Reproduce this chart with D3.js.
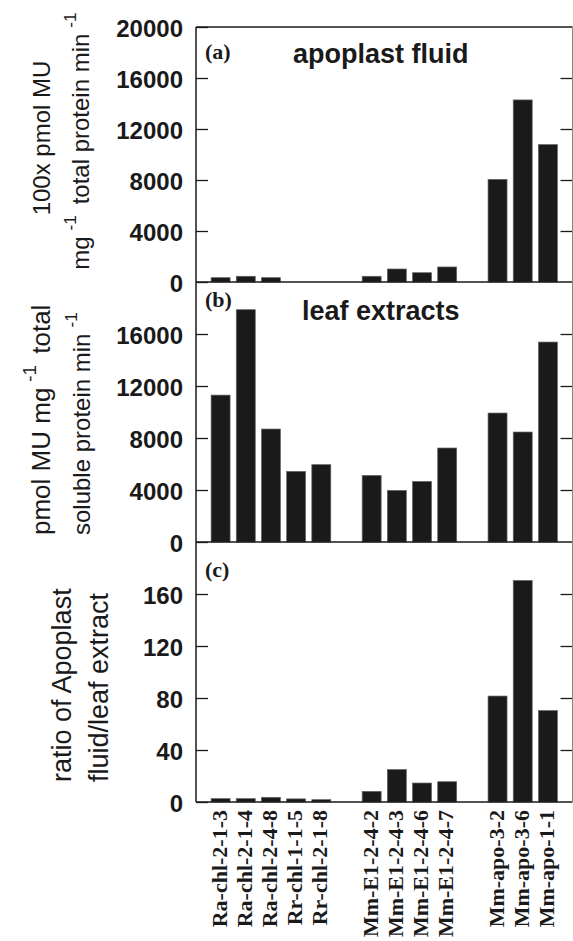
<!doctype html>
<html>
<head>
<title>MU activity in apoplast fluid and leaf extracts</title>
<script src="https://d3js.org/d3.v7.min.js"></script>
<style>
  body { margin: 0; background: #fff; }
</style>
</head>
<body>
<script>
// values
var categories = ["Ra-chl-2-1-3", "Ra-chl-2-1-4", "Ra-chl-2-4-8", "Rr-chl-1-1-5", "Rr-chl-2-1-8",
                  "Mm-E1-2-4-2", "Mm-E1-2-4-3", "Mm-E1-2-4-6", "Mm-E1-2-4-7",
                  "Mm-apo-3-2", "Mm-apo-3-6", "Mm-apo-1-1"];
var groups = [0, 0, 0, 0, 0, 1, 1, 1, 1, 2, 2, 2];

var apoplastFluid = [340, 450, 340, 0, 0, 450, 1020, 730, 1180, 8050, 14280, 10780];
var leafExtracts = [11300, 17870, 8690, 5430, 5950, 5120, 3970, 4660, 7230, 9920, 8460, 15380];
var ratioValues = [2.6, 2.6, 3.6, 2.4, 1.8, 8.2, 25, 14.6, 15.6, 81.5, 170.4, 70.3];

var ticksA = [0, 4000, 8000, 12000, 16000, 20000];
var ticksB = [0, 4000, 8000, 12000, 16000];
var ticksC = [0, 40, 80, 120, 160];

var width = 573, height = 941;
var left = 196, right = 572.5;
var ink = "#1a1a1a";
var sans = "'Liberation Sans', Arial, sans-serif";
var serif = "'Liberation Serif', 'Times New Roman', serif";

// empty slot between the groups
var slots = [];
categories.forEach(function (c, i) {
    if (i > 0 && groups[i] !== groups[i - 1]) slots.push("gap" + i);
    slots.push(c);
});

var x = d3.scaleBand()
    .domain(slots)
    .range([left, right])
    .paddingInner(0.246)
    .paddingOuter(0.6);

var panels = [
    { values: apoplastFluid, max: 20000, ticks: ticksA, top: 27, bottom: 282,
      tag: "(a)", tagY: 59, title: "apoplast fluid", titleX: 293, titleY: 63 },
    { values: leafExtracts, max: 20000, ticks: ticksB, top: 282, bottom: 542,
      tag: "(b)", tagY: 307, title: "leaf extracts", titleX: 302, titleY: 320 },
    { values: ratioValues, max: 200, ticks: ticksC, top: 542, bottom: 802,
      tag: "(c)", tagY: 577, title: "", titleX: 0, titleY: 0 }
];

var svg = d3.select("body")
    .append("svg")
    .attr("width", width)
    .attr("height", height);

panels.forEach(function (p) {
    var y = d3.scaleLinear()
        .domain([0, p.max])
        .range([p.bottom, p.top]);

    var g = svg.append("g");

    g.selectAll("rect")
        .data(p.values)
        .enter()
            .append("rect")
            .attr("x", function (d, i) { return x(categories[i]); })
            .attr("width", x.bandwidth())
            .attr("y", function (d) { return y(d); })
            .attr("height", function (d) { return p.bottom - y(d); })
            .attr("fill", ink)
            .attr("stroke", "#666")
            .attr("stroke-width", 0.7);

    var yAxis = d3.axisLeft(y)
        .tickValues(p.ticks)
        .tickSize(-12)
        .tickPadding(13)
        .tickFormat(d3.format("d"));

    var ga = g.append("g")
        .attr("transform", "translate(" + left + ",0)")
        .call(yAxis);
    ga.select(".domain").remove();
    ga.selectAll(".tick line").attr("stroke", ink).attr("stroke-width", 1.3);
    ga.selectAll(".tick text")
        .attr("dy", "0.38em")
        .attr("fill", ink)
        .style("font-family", sans)
        .style("font-weight", "bold")
        .style("font-size", "24px");

    var rAxis = d3.axisRight(y)
        .tickValues(p.ticks.filter(function (v) { return v > 0 && v < p.max; }))
        .tickSize(-12)
        .tickFormat("");

    var gr = g.append("g")
        .attr("transform", "translate(" + right + ",0)")
        .call(rAxis);
    gr.select(".domain").remove();
    gr.selectAll(".tick line").attr("stroke", ink).attr("stroke-width", 1.3);

    g.append("text")
        .attr("x", 205)
        .attr("y", p.tagY)
        .attr("fill", ink)
        .style("font-family", serif)
        .style("font-weight", "bold")
        .style("font-size", "22px")
        .text(p.tag);

    if (p.title) {
        g.append("text")
            .attr("x", p.titleX)
            .attr("y", p.titleY)
            .attr("fill", ink)
            .style("font-family", sans)
            .style("font-weight", "bold")
            .style("font-size", "27px")
            .text(p.title);
    }
});

// frame
var frame = svg.append("g").attr("stroke", ink).attr("stroke-width", 1.5);
frame.append("line").attr("x1", left).attr("x2", left).attr("y1", 27).attr("y2", 802);
[27, 282, 542, 802].forEach(function (yy) {
    frame.append("line").attr("x1", left).attr("x2", right).attr("y1", yy).attr("y2", yy);
});
svg.append("line")
    .attr("x1", right).attr("x2", right).attr("y1", 27).attr("y2", 802)
    .attr("stroke", "#888").attr("stroke-width", 1);

// category labels
svg.selectAll(".cat")
    .data(categories)
    .enter()
        .append("text")
        .attr("class", "cat")
        .attr("transform", function (d) {
            return "translate(" + (x(d) + x.bandwidth() / 2 + 6) + ",810) rotate(-90)";
        })
        .attr("text-anchor", "end")
        .attr("fill", ink)
        .style("font-family", serif)
        .style("font-weight", "bold")
        .style("font-size", "22px")
        .text(function (d) { return d; });

// y titles, two lines each; pieces are [text, raised?]
function yTitle(px, py, anchor, size, parts) {
    var t = svg.append("text")
        .attr("transform", "translate(" + px + "," + py + ") rotate(-90)")
        .attr("text-anchor", anchor)
        .attr("fill", ink)
        .style("font-family", sans)
        .style("font-size", size + "px");
    var up = false;
    parts.forEach(function (s) {
        var span = t.append("tspan").text(s[0]);
        if (s[1] && !up) {
            span.attr("dx", 6).attr("dy", -0.55 * size).style("font-size", (size * 0.72) + "px");
            up = true;
        } else if (!s[1] && up) {
            span.attr("dx", 4).attr("dy", 0.55 * size);
            up = false;
        }
    });
}

yTitle(50, 138, "middle", 24, [["100x pmol MU"]]);
yTitle(89, 141, "middle", 24, [["mg"], ["-1", true], [" total protein min"], ["-1", true]]);
yTitle(50, 535, "start", 26, [["pmol MU mg"], ["-1", true], [" total"]]);
yTitle(90, 535, "start", 24, [["soluble protein min"], ["-1", true]]);
yTitle(70.5, 782, "start", 27, [["ratio of Apoplast"]]);
yTitle(108, 782, "start", 27, [["fluid/leaf extract"]]);
</script>
</body>
</html>
